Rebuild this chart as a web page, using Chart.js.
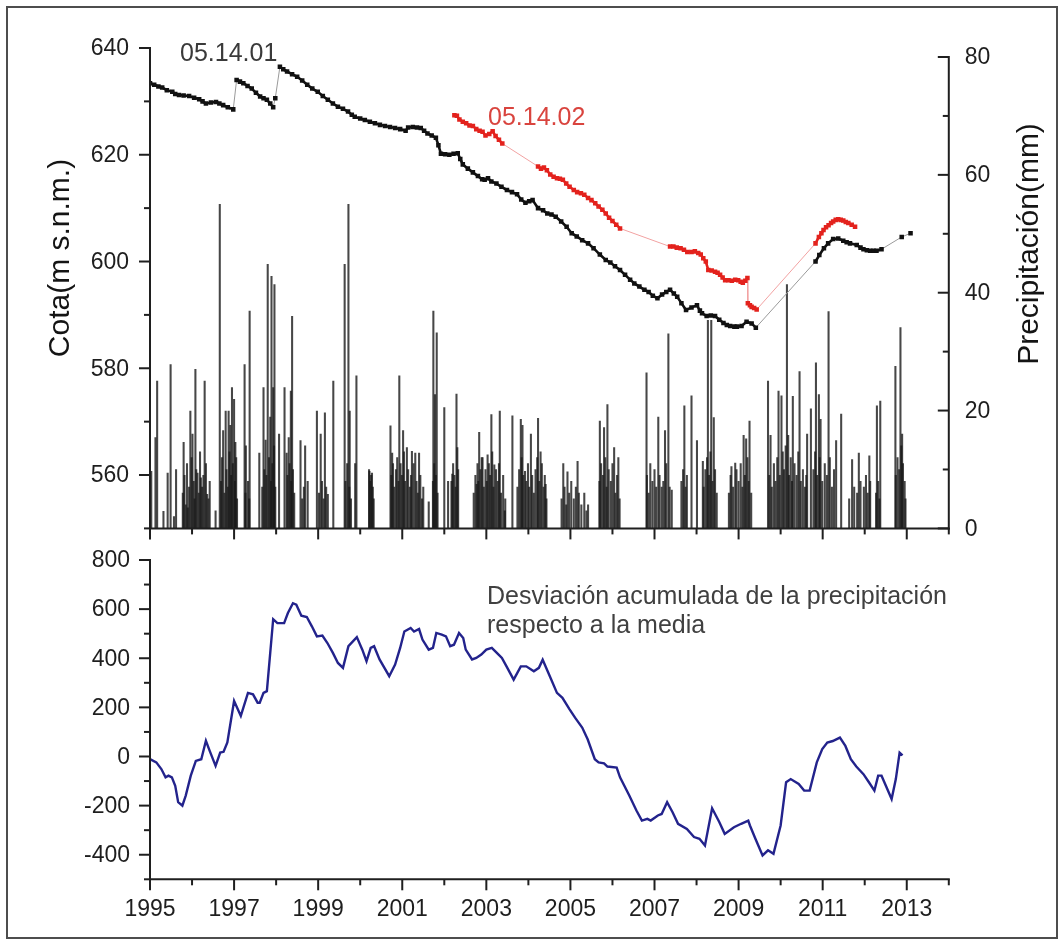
<!DOCTYPE html>
<html lang="es">
<head>
<meta charset="utf-8">
<title>Cota piezométrica, precipitación y desviación acumulada</title>
<script src="https://cdn.jsdelivr.net/npm/chart.js@4.4.1/dist/chart.umd.min.js"></script>
<style>
  html, body { margin: 0; padding: 0; background: #fff; }
  #figure { position: relative; width: 1064px; height: 944px; overflow: hidden; background: #fff; }
  #frame { position: absolute; left: 6px; top: 6px; width: 1052px; height: 933px; box-sizing: border-box; border: 2px solid #4d4d4d; }
  canvas { position: absolute; left: 0; }
  #top { top: 0; }
  #bottom { top: 545px; }
</style>
</head>
<body>
<div id="figure">
  <div id="frame"></div>
  <canvas id="top" width="1064" height="545"></canvas>
  <canvas id="bottom" width="1064" height="399"></canvas>
</div>
<script>
// ---------------------------------------------------------------
// Data (decimal years)
// ---------------------------------------------------------------

// Piezometer 05.14.01 – water level (m s.n.m.), one sub-array per continuous record
const cota051401 = [
  [[1995.00,633.4],[1995.10,633.1],[1995.20,632.8],[1995.29,632.6],[1995.40,632.1],[1995.53,631.8],[1995.60,631.4],
   [1995.69,631.2],[1995.80,631.1],[1995.93,631.0],[1996.05,630.7],[1996.17,630.4],[1996.25,630.0],[1996.33,629.6],
   [1996.45,629.8],[1996.57,629.9],[1996.65,629.6],[1996.74,629.3],[1996.85,628.9],[1996.98,628.5]],
  [[1997.06,634.0],[1997.14,633.7],[1997.22,633.4],[1997.32,632.9],[1997.42,632.4],[1997.52,631.6],[1997.62,630.9],
   [1997.70,630.6],[1997.78,630.3],[1997.86,629.6],[1997.93,628.9]],
  [[1997.98,630.6]],
  [[1998.09,636.5],[1998.17,636.0],[1998.26,635.6],[1998.38,635.1],[1998.50,634.6],[1998.62,633.9],[1998.74,633.1],
   [1998.86,632.4],[1998.99,631.8],[1999.11,631.0],[1999.23,630.3],[1999.35,629.6],[1999.47,629.0],[1999.59,628.6],
   [1999.71,628.1],[1999.80,627.5],[1999.87,627.1],[2000.00,626.8],[2000.11,626.5],[2000.23,626.2],[2000.35,625.9],
   [2000.47,625.6],[2000.59,625.4],[2000.71,625.2],[2000.83,625.0],[2000.95,624.8],[2001.08,624.5],[2001.14,625.1],
   [2001.25,625.2],[2001.35,625.1],[2001.44,625.0],[2001.52,624.5],[2001.60,624.0],[2001.70,623.6],[2001.80,623.2],
   [2001.86,621.8],[2001.92,620.2],[2002.02,620.1],[2002.12,620.0],[2002.22,620.2],[2002.32,620.3],[2002.38,619.2],
   [2002.44,618.2],[2002.56,617.4],[2002.68,616.7],[2002.80,616.0],[2002.90,615.4],[2002.96,615.3],[2003.04,615.6],
   [2003.12,615.0],[2003.24,614.6],[2003.36,614.0],[2003.49,613.4],[2003.61,613.0],[2003.73,612.6],[2003.83,611.6],
   [2003.93,611.0],[2004.02,611.3],[2004.10,611.5],[2004.23,610.0],[2004.35,609.6],[2004.45,609.0],[2004.55,608.8],
   [2004.65,608.4],[2004.78,607.5],[2004.91,606.5],[2005.03,605.3],[2005.15,604.7],[2005.28,604.0],[2005.42,603.4],
   [2005.55,602.5],[2005.70,601.3],[2005.84,600.3],[2005.95,599.8],[2006.06,599.1],[2006.18,598.4],[2006.30,597.5],
   [2006.42,596.6],[2006.52,595.9],[2006.64,595.3],[2006.76,594.7],[2006.86,594.3],[2006.96,593.6],[2007.07,593.1],
   [2007.18,593.8],[2007.28,594.3],[2007.37,594.7],[2007.46,594.0],[2007.54,593.4],[2007.64,592.2],[2007.75,590.9],
   [2007.88,591.4],[2008.01,591.8],[2008.08,590.8],[2008.13,590.3],[2008.24,589.8],[2008.34,589.9],[2008.44,589.8],
   [2008.54,589.1],[2008.64,588.5],[2008.72,588.1],[2008.80,587.9],[2008.90,587.8],[2008.96,587.8],[2009.07,587.9],
   [2009.19,588.7],[2009.31,588.4],[2009.41,587.6]],
  [[2010.83,600.0],[2010.92,601.2],[2011.03,602.5],[2011.13,603.4],[2011.25,604.2],[2011.37,604.3],[2011.49,603.9],
   [2011.57,603.6],[2011.65,603.4],[2011.81,603.1],[2011.90,602.6],[2011.97,602.3],[2012.05,602.1],[2012.13,602.0],
   [2012.21,602.0],[2012.28,602.0],[2012.40,602.3]],
  [[2012.88,604.6]],
  [[2013.09,605.3]]
];

// Piezometer 05.14.02 – water level (m s.n.m.)
const cota051402 = [
  [[2002.24,627.4],[2002.30,627.3],[2002.36,626.6],[2002.44,626.2],[2002.52,625.9],[2002.60,625.5],[2002.68,625.4],
   [2002.76,624.8],[2002.84,624.5],[2002.91,624.3],[2002.98,623.6],[2003.07,623.9],[2003.15,624.4],[2003.22,623.5],
   [2003.30,622.8],[2003.38,622.1]],
  [[2004.23,617.8],[2004.30,617.4],[2004.37,617.6],[2004.44,617.1],[2004.52,616.3],[2004.60,615.9],[2004.68,615.6],
   [2004.75,615.5],[2004.82,615.3],[2004.90,614.6],[2004.98,614.0],[2005.08,613.4],[2005.16,613.0],[2005.25,612.8],
   [2005.33,612.5],[2005.42,611.9],[2005.50,611.5],[2005.59,610.9],[2005.67,610.3],[2005.76,609.7],[2005.84,609.0],
   [2005.92,608.2],[2006.00,607.6],[2006.09,606.9],[2006.18,606.2]],
  [[2007.37,602.8],[2007.45,602.8],[2007.53,602.6],[2007.62,602.5],[2007.70,602.2],[2007.78,601.8],[2007.88,601.8],
   [2007.96,601.9],[2008.04,601.6],[2008.10,601.3],[2008.16,600.6],[2008.22,600.0],[2008.28,598.4],[2008.36,598.3],
   [2008.44,598.1],[2008.50,597.9],[2008.56,597.5],[2008.62,597.0],[2008.68,596.5],[2008.76,596.5],[2008.84,596.4],
   [2008.92,596.6],[2008.99,596.5],[2009.05,596.2],[2009.10,596.0],[2009.16,596.4],[2009.21,596.9]],
  [[2009.22,592.2],[2009.27,591.8],[2009.31,591.5],[2009.37,591.3],[2009.43,591.0]],
  [[2010.83,603.4],[2010.91,604.6],[2010.97,605.3],[2011.02,605.9],[2011.08,606.4],[2011.14,606.8],[2011.20,607.2],
   [2011.25,607.5],[2011.31,607.8],[2011.37,607.9],[2011.43,607.8],[2011.49,607.7],[2011.55,607.4],[2011.61,607.2],
   [2011.69,606.9],[2011.77,606.5]]
];

// Daily precipitation (mm)
const precipitacion = [
  [1995.03,9.7],[1995.13,15.4],[1995.17,25.0],[1995.32,2.9],[1995.42,9.4],[1995.49,27.8],[1995.57,2.0],[1995.62,10.0],
  [1995.78,6],[1995.80,14.6],[1995.82,9],[1995.85,4],[1995.88,11],[1995.90,3.5],[1995.93,7],[1995.96,19.9],[1995.99,12],
  [1996.01,16.0],[1996.04,8],[1996.06,5],[1996.08,27.0],[1996.10,10],[1996.13,9.4],[1996.16,6],[1996.19,13],[1996.21,8.6],
  [1996.24,7],[1996.27,9],[1996.30,25.0],[1996.33,11],[1996.36,5.8],[1996.39,5],[1996.42,8],[1996.56,3.0],
  [1996.66,55.0],[1996.69,8],[1996.71,12],[1996.74,16.6],[1996.77,6],[1996.80,19.9],[1996.82,10],[1996.85,7],[1996.87,19.9],
  [1996.89,13],[1996.91,17.5],[1996.93,9],[1996.95,23.9],[1996.97,11],[1997.00,21.9],[1997.02,8],[1997.03,14.6],[1997.05,12],
  [1997.07,5],[1997.25,27.8],[1997.27,6],[1997.28,14.0],[1997.33,8],[1997.36,5],[1997.37,36.9],[1997.60,12.8],[1997.67,7],
  [1997.70,23.9],[1997.72,10],[1997.75,15.0],[1997.77,9],[1997.80,44.8],[1997.83,12],[1997.86,18.9],[1997.88,8],[1997.89,42.8],
  [1997.91,11],[1997.93,23.9],[1997.95,14],[1997.96,41.4],[1997.98,7],[1998.07,16.0],[1998.20,23.9],[1998.25,12.8],[1998.27,9],
  [1998.30,15.4],[1998.32,11],[1998.35,23.3],[1998.36,8],[1998.38,36.0],[1998.40,10],[1998.43,6],[1998.58,14.9],[1998.62,5],
  [1998.66,7],[1998.69,14.0],[1998.75,8.0],[1998.97,19.9],[1999.02,6],[1999.06,16.0],[1999.09,8],[1999.13,5],[1999.16,19.6],
  [1999.19,7],[1999.23,5.8],[1999.36,25.0],[1999.63,44.8],[1999.65,8],[1999.69,11],[1999.72,55.0],[1999.74,7],[1999.75,19.9],
  [1999.78,5],[1999.88,11.0],[1999.91,25.9],[2000.21,10],[2000.22,9.7],[2000.24,8],[2000.26,9],[2000.28,9.4],[2000.30,7],
  [2000.32,5],[2000.72,17.4],[2000.74,9],[2000.76,12.8],[2000.78,11],[2000.81,7],[2000.85,10],[2000.88,12],[2000.91,8],
  [2000.93,25.9],[2000.96,11],[2000.99,9],[2001.02,16.6],[2001.04,13],[2001.07,8],[2001.11,13.7],[2001.14,10],[2001.18,7],
  [2001.21,9],[2001.23,13.1],[2001.27,11],[2001.31,12.8],[2001.34,8],[2001.37,6],[2001.40,12.8],[2001.43,9],[2001.47,5],
  [2001.50,7],[2001.63,4.5],[2001.73,8],[2001.74,36.9],[2001.76,11],[2001.78,22.7],[2001.80,9],[2001.82,33.2],[2001.84,6],
  [2002.00,20.5],[2002.09,8.0],[2002.17,8],[2002.19,9.2],[2002.21,11],[2002.24,9],[2002.27,7],[2002.29,22.8],[2002.31,13.7],
  [2002.33,10],[2002.70,6],[2002.74,9],[2002.77,7.5],[2002.79,11],[2002.81,8],[2002.83,16.3],[2002.86,10],[2002.89,12.0],
  [2002.91,12],[2002.94,7],[2002.98,10],[2003.01,8],[2003.03,12.5],[2003.06,11],[2003.09,9],[2003.12,19.3],[2003.14,13],
  [2003.17,7],[2003.19,10.8],[2003.23,10],[2003.27,8],[2003.30,11],[2003.32,19.9],[2003.35,6],[2003.40,9],[2003.44,3.0],
  [2003.45,5],[2003.62,19.1],[2003.74,7],[2003.78,10],[2003.82,18.5],[2003.84,12],[2003.86,17.5],[2003.88,9],[2003.92,9.7],
  [2003.95,8],[2003.99,11],[2004.02,7],[2004.06,16.0],[2004.09,9],[2004.13,6],[2004.17,10],[2004.21,12],[2004.23,18.7],
  [2004.26,8],[2004.29,13.0],[2004.32,11],[2004.36,7],[2004.39,9],[2004.41,7.5],[2004.43,5],[2004.79,5],[2004.83,11.0],
  [2004.86,7],[2004.90,4],[2004.93,9.6],[2004.97,6],[2005.02,8],[2005.08,5],[2005.13,7],[2005.17,11.4],[2005.20,6],
  [2005.26,4],[2005.33,6],[2005.38,3],[2005.42,4.0],[2005.69,8],[2005.70,18.2],[2005.73,11],[2005.77,9],[2005.80,17.1],
  [2005.83,12],[2005.86,7],[2005.88,21.0],[2005.91,10],[2005.96,8],[2006.00,11],[2006.04,13.7],[2006.07,6],[2006.11,9],
  [2006.14,12.0],[2006.17,5],[2006.81,26.4],[2006.82,9],[2006.86,6],[2006.90,11],[2006.95,8],[2007.00,10],[2007.04,7],
  [2007.09,18.9],[2007.12,9],[2007.17,7.0],[2007.21,8],[2007.25,16.6],[2007.28,11],[2007.33,33.0],[2007.36,7],[2007.41,6.5],
  [2007.64,8],[2007.68,10],[2007.71,20.8],[2007.74,7],[2007.77,9],[2007.88,22.5],[2008.01,14.9],[2008.15,11.4],[2008.17,7],
  [2008.21,10],[2008.25,12],[2008.27,35.3],[2008.30,9],[2008.33,13],[2008.35,35.3],[2008.38,8],[2008.41,18.8],[2008.44,10],
  [2008.48,6],[2008.77,6],[2008.81,9],[2008.83,10.5],[2008.87,7],[2008.92,11.1],[2008.95,10],[2009.00,8],[2009.05,11],
  [2009.09,7],[2009.12,15.8],[2009.15,9],[2009.18,15.2],[2009.21,12],[2009.24,8],[2009.26,18.2],[2009.30,6],[2009.70,25.0],
  [2009.73,9],[2009.76,15.8],[2009.79,7],[2009.84,11],[2009.88,8],[2009.92,12],[2009.95,23.3],[2009.98,9],[2010.02,22.5],
  [2010.05,13],[2010.08,10],[2010.12,14],[2010.15,41.4],[2010.18,15.8],[2010.20,9],[2010.24,12],[2010.27,8],[2010.29,22.4],
  [2010.33,11],[2010.38,9],[2010.42,13],[2010.45,26.6],[2010.48,8],[2010.53,10],[2010.58,7],[2010.61,9],[2010.63,16.0],
  [2010.72,20.3],[2010.78,10],[2010.82,13],[2010.84,28.1],[2010.87,9],[2010.91,22.7],[2010.93,12],[2010.95,18.5],[2010.99,8],
  [2011.05,11],[2011.10,9],[2011.14,36.8],[2011.17,12],[2011.22,7],[2011.27,10],[2011.32,14.9],[2011.44,19.4],[2011.63,5],
  [2011.70,11.7],[2011.75,7],[2011.82,6],[2011.86,12.8],[2011.90,8],[2011.98,7],[2012.03,9],[2012.07,6],[2012.11,12.3],
  [2012.13,8],[2012.27,6],[2012.29,20.8],[2012.32,8],[2012.35,5],[2012.37,21.6],[2012.73,27.5],[2012.74,9],[2012.78,12],
  [2012.82,10],[2012.85,34.1],[2012.87,14],[2012.89,16.0],[2012.91,11],[2012.95,8],[2012.97,5]
];

// Cumulative deviation of precipitation from the mean (mm)
const desviacionAcumulada = [
  [1995.00,-11],[1995.15,-24],[1995.27,-51],[1995.37,-85],[1995.44,-78],[1995.52,-85],[1995.60,-119],[1995.67,-186],
  [1995.77,-200],[1995.85,-159],[1995.97,-78],[1996.09,-18],[1996.22,-11],[1996.33,64],[1996.42,23],[1996.56,-38],
  [1996.67,16],[1996.75,19],[1996.84,57],[1997.00,226],[1997.16,165],[1997.33,259],[1997.45,253],[1997.56,219],
  [1997.61,219],[1997.70,259],[1997.78,266],[1997.93,559],[1998.03,543],[1998.19,543],[1998.28,584],[1998.40,624],
  [1998.48,618],[1998.60,573],[1998.73,568],[1998.85,530],[1998.97,489],[1999.10,492],[1999.22,462],[1999.35,422],
  [1999.47,381],[1999.59,361],[1999.72,449],[1999.92,486],[2000.05,435],[2000.15,388],[2000.25,442],[2000.33,449],
  [2000.46,395],[2000.69,327],[2000.83,374],[2000.95,442],[2001.05,509],[2001.20,523],[2001.28,509],[2001.40,519],
  [2001.48,476],[2001.63,435],[2001.73,442],[2001.81,503],[2001.94,496],[2002.04,489],[2002.14,449],[2002.23,455],
  [2002.35,503],[2002.45,482],[2002.51,435],[2002.66,395],[2002.76,401],[2002.88,415],[2003.00,435],[2003.13,442],
  [2003.25,422],[2003.37,401],[2003.48,367],[2003.65,313],[2003.82,367],[2003.95,367],[2004.13,347],[2004.25,361],
  [2004.34,394],[2004.51,327],[2004.68,259],[2004.81,239],[2004.98,192],[2005.11,158],[2005.28,118],[2005.41,70],
  [2005.58,-11],[2005.67,-24],[2005.80,-28],[2005.88,-41],[2006.10,-45],[2006.18,-85],[2006.40,-159],[2006.57,-220],
  [2006.70,-261],[2006.83,-254],[2006.91,-261],[2007.08,-240],[2007.17,-234],[2007.30,-186],[2007.43,-227],[2007.56,-274],
  [2007.77,-295],[2007.94,-328],[2008.07,-335],[2008.20,-362],[2008.37,-211],[2008.54,-267],[2008.67,-315],[2008.89,-288],
  [2009.06,-274],[2009.23,-261],[2009.27,-281],[2009.40,-335],[2009.57,-403],[2009.70,-382],[2009.83,-396],[2010.00,-281],
  [2010.13,-105],[2010.24,-92],[2010.43,-112],[2010.56,-139],[2010.69,-139],[2010.86,-24],[2010.99,30],[2011.11,57],
  [2011.24,63],[2011.41,77],[2011.54,43],[2011.67,-11],[2011.80,-41],[2011.97,-72],[2012.10,-105],[2012.23,-139],
  [2012.32,-78],[2012.40,-78],[2012.64,-173],[2012.74,-92],[2012.83,16],[2012.90,5]
];

// Axis ranges and tick labels
const anioInicio = 1995, anioFin = 2014;
const cotaMin = 550, cotaMax = 640;
const precipMin = 0, precipTope = 80, precipMax = 81.53;
const desvMin = -500, desvMax = 800;

// ---------------------------------------------------------------
// Helpers
// ---------------------------------------------------------------
const FONT = "'Liberation Sans', Arial, Helvetica, sans-serif";

// Join measurement runs; a null point separates runs so the gap is drawn thin
function runsToPoints(runs) {
  const out = [];
  runs.forEach((run, k) => {
    if (k > 0) out.push({ x: run[0][0], y: null });
    run.forEach(([x, y]) => out.push({ x, y }));
  });
  return out;
}
const gap = (ctx, v) => (ctx.p0.skip || ctx.p1.skip) ? v : undefined;

function paintAxis(ctx, chart, a) {
  const sc = chart.scales[a.scale];
  const area = chart.chartArea;
  const vertical = a.edge !== 'bottom';
  const base = a.edge === 'left' ? area.left : a.edge === 'right' ? area.right : area.bottom;
  const n = Math.round((a.to - a.from) / a.step);
  ctx.strokeStyle = '#1f1f1f';
  ctx.lineWidth = 2;
  ctx.lineCap = 'square';
  ctx.beginPath();
  if (vertical) {
    ctx.moveTo(base, sc.getPixelForValue(a.from));
    ctx.lineTo(base, sc.getPixelForValue(a.to));
  } else {
    ctx.moveTo(sc.getPixelForValue(a.from), base);
    ctx.lineTo(sc.getPixelForValue(a.to), base);
  }
  ctx.stroke();
  ctx.lineCap = 'butt';
  ctx.font = '23px ' + FONT;
  ctx.fillStyle = '#1e1e1e';
  for (let i = 0; i <= n; i++) {
    const v = a.from + i * a.step;
    const major = (((Math.round(v) - a.majorBase) % a.majorStep) + a.majorStep) % a.majorStep === 0;
    const len = major ? 11 : 6;
    const p = sc.getPixelForValue(v);
    ctx.beginPath();
    if (vertical) { ctx.moveTo(base, p); ctx.lineTo(base + a.dir * len, p); }
    else { ctx.moveTo(p, base); ctx.lineTo(p, base + a.dir * len); }
    ctx.stroke();
    if (major && a.labels !== false) {
      ctx.textBaseline = 'middle';
      if (vertical) { ctx.textAlign = a.labelAlign; ctx.fillText(String(v), base + a.labelDx, p + 1); }
      else { ctx.textAlign = 'center'; ctx.fillText(String(v), p, base + a.labelDy); }
    }
  }
}

function paintText(ctx, t) {
  ctx.save();
  ctx.font = t.font;
  ctx.fillStyle = t.color;
  ctx.textAlign = t.align || 'left';
  ctx.textBaseline = t.baseline || 'alphabetic';
  ctx.translate(t.x, t.y);
  if (t.rotate) ctx.rotate(t.rotate);
  t.lines.forEach((s, k) => ctx.fillText(s, 0, k * (t.lineHeight || 0)));
  ctx.restore();
}

const axisPainter = {
  id: 'axisPainter',
  afterDatasetsDraw(chart, args, opts) {
    const ctx = chart.ctx;
    ctx.save();
    (opts.axes || []).forEach(a => paintAxis(ctx, chart, a));
    (opts.texts || []).forEach(t => paintText(ctx, t));
    ctx.restore();
  }
};

// ---------------------------------------------------------------
// Upper panel: water levels and daily precipitation
// ---------------------------------------------------------------
new Chart(document.getElementById('top'), {
  type: 'line',
  data: {
    datasets: [
      {
        label: '05.14.01',
        data: runsToPoints(cota051401),
        xAxisID: 'x', yAxisID: 'y',
        borderColor: '#111', backgroundColor: '#111',
        borderWidth: 2.6, tension: 0, spanGaps: true,
        pointStyle: 'rect', pointRadius: 3.2, pointBorderWidth: 0,
        segment: { borderColor: ctx => gap(ctx, '#9a9a9a'), borderWidth: ctx => gap(ctx, 1) },
        order: 1
      },
      {
        label: '05.14.02',
        data: runsToPoints(cota051402),
        xAxisID: 'x', yAxisID: 'y',
        borderColor: '#e3221d', backgroundColor: '#e3221d',
        borderWidth: 2.6, tension: 0, spanGaps: true,
        pointStyle: 'rect', pointRadius: 3.2, pointBorderWidth: 0,
        segment: { borderColor: ctx => gap(ctx, '#f2a2a2'), borderWidth: ctx => gap(ctx, 1) },
        order: 2
      },
      {
        type: 'bar',
        label: 'Precipitación',
        data: precipitacion.slice().sort((a, b) => a[0] - b[0]).map(([x, y]) => ({ x, y })),
        xAxisID: 'x', yAxisID: 'y1',
        backgroundColor: 'rgba(25,25,25,0.8)',
        barThickness: 1.4,
        order: 3
      }
    ]
  },
  options: {
    responsive: false, animation: false, devicePixelRatio: 1,
    layout: { padding: { left: 150, right: 115.2, top: 48, bottom: 16.6 } },
    scales: {
      x: { type: 'linear', min: anioInicio, max: anioFin, offset: false, display: false },
      y: { type: 'linear', min: cotaMin, max: cotaMax, display: false },
      y1: { type: 'linear', min: precipMin, max: precipMax, display: false }
    },
    plugins: {
      legend: { display: false },
      tooltip: { enabled: false },
      axisPainter: {
        axes: [
          { scale: 'y', edge: 'left', from: cotaMin, to: cotaMax, step: 10, majorBase: 560, majorStep: 20, dir: -1, labelDx: -21, labelAlign: 'right' },
          { scale: 'y1', edge: 'right', from: precipMin, to: precipTope, step: 10, majorBase: 0, majorStep: 20, dir: -1, labelDx: 16, labelAlign: 'left' },
          { scale: 'x', edge: 'bottom', from: anioInicio, to: anioFin, step: 1, majorBase: 1995, majorStep: 2, dir: 1, labels: false }
        ],
        texts: [
          { lines: ['Cota(m s.n.m.)'], x: 61, y: 258, rotate: -Math.PI / 2, align: 'center', baseline: 'middle', font: '30px ' + FONT, color: '#141414' },
          { lines: ['Precipitación(mm)'], x: 1030, y: 244, rotate: -Math.PI / 2, align: 'center', baseline: 'middle', font: '30px ' + FONT, color: '#141414' },
          { lines: ['05.14.01'], x: 180, y: 61, font: '25px ' + FONT, color: '#3a3a3a' },
          { lines: ['05.14.02'], x: 488, y: 125, font: '25px ' + FONT, color: '#d9443e' }
        ]
      }
    }
  },
  plugins: [axisPainter]
});

// ---------------------------------------------------------------
// Lower panel: cumulative deviation of precipitation
// ---------------------------------------------------------------
new Chart(document.getElementById('bottom'), {
  type: 'line',
  data: {
    datasets: [{
      label: 'Desviación acumulada',
      data: desviacionAcumulada.map(([x, y]) => ({ x, y })),
      borderColor: '#23238c', borderWidth: 2.4, tension: 0,
      pointRadius: 0
    }]
  },
  options: {
    responsive: false, animation: false, devicePixelRatio: 1,
    layout: { padding: { left: 150, right: 115.2, top: 15, bottom: 64.7 } },
    scales: {
      x: { type: 'linear', min: anioInicio, max: anioFin, offset: false, display: false },
      y: { type: 'linear', min: desvMin, max: desvMax, display: false }
    },
    plugins: {
      legend: { display: false },
      tooltip: { enabled: false },
      axisPainter: {
        axes: [
          { scale: 'y', edge: 'left', from: desvMin, to: desvMax, step: 100, majorBase: 0, majorStep: 200, dir: -1, labelDx: -20, labelAlign: 'right' },
          { scale: 'x', edge: 'bottom', from: anioInicio, to: anioFin, step: 1, majorBase: 1995, majorStep: 2, dir: 1, labelDy: 30 }
        ],
        texts: [
          { lines: ['Desviación acumulada de la precipitación', 'respecto a la media'], x: 487, y: 59, lineHeight: 29, font: '25px ' + FONT, color: '#404040' }
        ]
      }
    }
  },
  plugins: [axisPainter]
});
</script>
</body>
</html>
